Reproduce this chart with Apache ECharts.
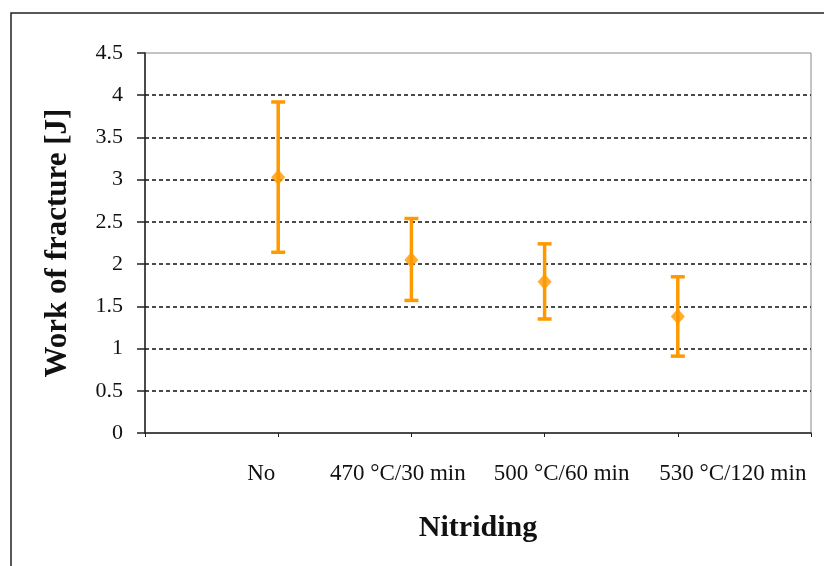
<!DOCTYPE html>
<html lang="en">
<head>
    <meta charset="UTF-8">
    <title>Work of fracture</title>
    <script src="https://cdn.jsdelivr.net/npm/echarts@6/dist/echarts.min.js"></script>
</head>
<body style="margin:0;background:#fff;">
<div id="main" style="width:824px;height:566px;"></div>
<script>
    // 数据
    var categories = ['No', '470 °C/30 min', '500 °C/60 min', '530 °C/120 min'];
    var positions = [1, 2, 3, 4];
    var means = [3.03, 2.05, 1.79, 1.38];
    var lows = [2.14, 1.57, 1.35, 0.91];
    var highs = [3.92, 2.54, 2.24, 1.85];

    var orange = '#FF9900';
    var font = '"Liberation Serif", "Times New Roman", serif';

    var errData = [];
    var meanData = [];
    for (var i = 0; i < positions.length; i++) {
        errData.push([positions[i], lows[i], highs[i]]);
        meanData.push([positions[i], means[i]]);
    }

    // label boxes are shifted a little, like in the original picture
    var rich = {
        s0: {fontFamily: font, fontSize: 23, color: '#111', padding: [0, 34, 0, 0]},
        s1: {fontFamily: font, fontSize: 23, color: '#111', padding: [0, 27, 0, 0]},
        s2: {fontFamily: font, fontSize: 23, color: '#111', padding: [0, 0, 0, 34]},
        s3: {fontFamily: font, fontSize: 23, color: '#111', padding: [0, 0, 0, 110]}
    };

    var myChart = echarts.init(document.getElementById('main'));
    var option = {
        backgroundColor: '#fff',
        animation: false,
        graphic: [{
            type: 'rect',
            shape: {x: 11, y: 13, width: 830, height: 600},
            style: {fill: 'none', stroke: '#222', lineWidth: 1.5},
            z: -1
        }],
        grid: {
            left: 145, top: 53, right: 13, bottom: 133,
            show: true, borderColor: '#888', borderWidth: 1, backgroundColor: '#fff'
        },
        xAxis: {
            type: 'value',
            min: 0, max: 5, interval: 1,
            name: 'Nitriding',
            nameLocation: 'middle',
            nameGap: 80,
            nameTextStyle: {fontFamily: font, fontSize: 30, fontWeight: 'bold', color: '#111'},
            axisLine: {lineStyle: {color: '#222', width: 1.5}},
            axisTick: {show: true, length: 4, lineStyle: {color: '#222'}},
            splitLine: {show: false},
            axisLabel: {
                margin: 29,
                fontFamily: font, fontSize: 23, color: '#111',
                formatter: function (v) {
                    var idx = positions.indexOf(Math.round(v));
                    if (idx < 0) return '';
                    return '{s' + idx + '|' + categories[idx] + '}';
                },
                rich: rich
            }
        },
        yAxis: {
            type: 'value',
            min: 0, max: 4.5, interval: 0.5,
            name: 'Work of fracture [J]',
            nameLocation: 'middle',
            nameGap: 72,
            nameTextStyle: {fontFamily: font, fontSize: 31, fontWeight: 'bold', color: '#111'},
            axisLine: {show: true, lineStyle: {color: '#222', width: 1.5}},
            axisTick: {show: true, length: 8, lineStyle: {color: '#222', width: 1.5}},
            axisLabel: {margin: 22, fontFamily: font, fontSize: 22, color: '#111'},
            splitLine: {
                show: true,
                showMinLine: false,
                showMaxLine: false,
                lineStyle: {color: '#111', type: [4, 3], width: 1.5}
            }
        },
        series: [
            {
                type: 'custom',
                data: errData,
                z: 2,
                renderItem: function (params, api) {
                    var x = api.value(0);
                    var lo = api.coord([x, api.value(1)]);
                    var hi = api.coord([x, api.value(2)]);
                    var w = 7;
                    var st = {stroke: orange, lineWidth: 3.5, fill: 'none'};
                    return {
                        type: 'group',
                        children: [
                            {type: 'line', shape: {x1: hi[0], y1: hi[1], x2: lo[0], y2: lo[1]}, style: st},
                            {type: 'line', shape: {x1: hi[0] - w, y1: hi[1], x2: hi[0] + w, y2: hi[1]}, style: st},
                            {type: 'line', shape: {x1: lo[0] - w, y1: lo[1], x2: lo[0] + w, y2: lo[1]}, style: st}
                        ]
                    };
                }
            },
            {
                type: 'scatter',
                data: meanData,
                z: 3,
                symbol: 'diamond',
                symbolSize: [14, 16],
                itemStyle: {color: orange}
            }
        ]
    };
    myChart.setOption(option);
</script>
</body>
</html>
